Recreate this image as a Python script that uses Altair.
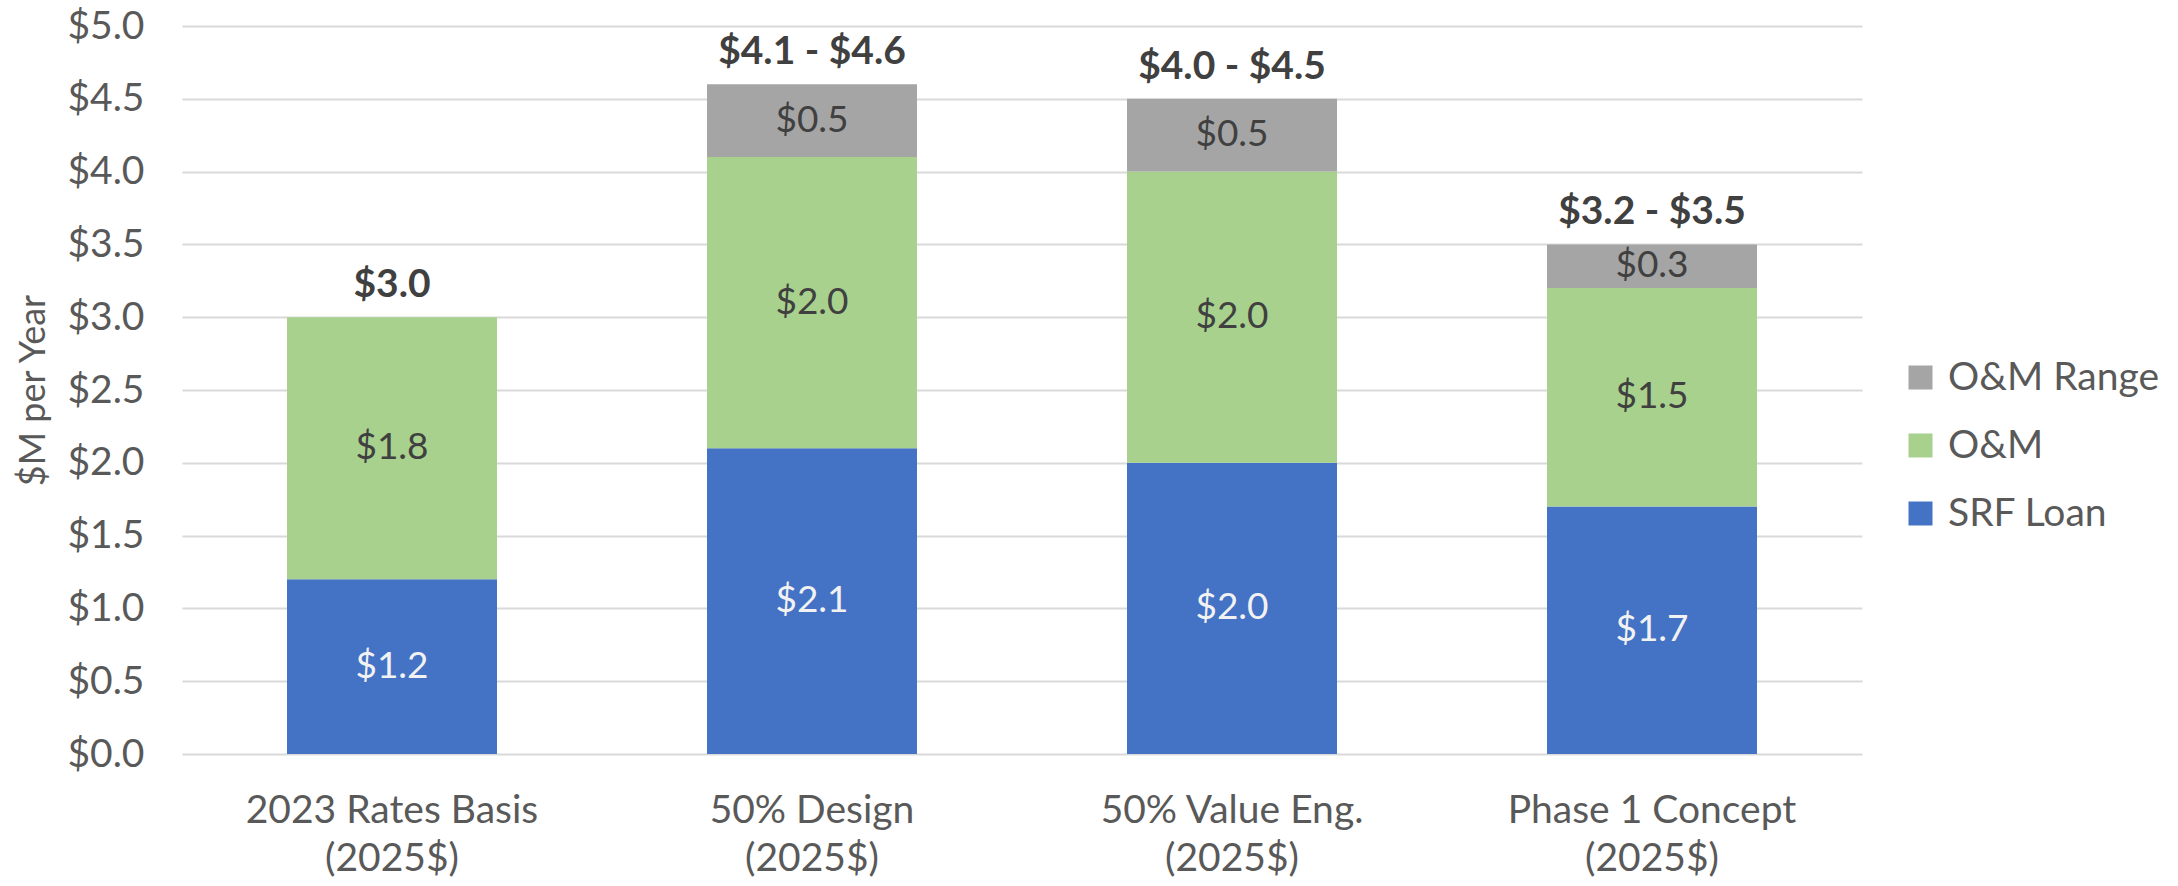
import altair as alt
import pandas as pd

categories = ["2023 Rates Basis", "50% Design", "50% Value Eng.", "Phase 1 Concept"]
subtitle = "(2025$)"
series = ["SRF Loan", "O&M", "O&M Range"]
srf_loan = [1.2, 2.1, 2.0, 1.7]
om = [1.8, 2.0, 2.0, 1.5]
om_range = [0.0, 0.5, 0.5, 0.3]
total_labels = ["$3.0", "$4.1 - $4.6", "$4.0 - $4.5", "$3.2 - $3.5"]
y_ticks = [0.0, 0.5, 1.0, 1.5, 2.0, 2.5, 3.0, 3.5, 4.0, 4.5, 5.0]

colors = {"SRF Loan": "#4472C4", "O&M": "#A9D18E", "O&M Range": "#A5A5A5"}
text_colors = {"SRF Loan": "#F2F2F2", "O&M": "#404040", "O&M Range": "#404040"}
legend_order = ["O&M Range", "O&M", "SRF Loan"]

FONT = "Lato"

rows = []
for i, cat in enumerate(categories):
    for j, (s, vals) in enumerate(zip(series, [srf_loan, om, om_range])):
        v = vals[i]
        rows.append({
            "category": cat,
            "series": s,
            "value": v,
            "order": j,
            "label": "$" + format(v, ".1f"),
            "tcolor": text_colors[s],
        })
df = pd.DataFrame(rows)

tot = pd.DataFrame({
    "category": categories,
    "top": [a + b + c for a, b, c in zip(srf_loan, om, om_range)],
    "label": total_labels,
})

x_enc = alt.X(
    "category:N",
    sort=categories,
    scale=alt.Scale(paddingInner=0.5, paddingOuter=0.25),
    axis=alt.Axis(
        title=None,
        labelExpr="[datum.label, '" + subtitle + "']",
        labelAngle=0,
        labelFont=FONT,
        labelFontSize=39,
        labelColor="#595959",
        labelPadding=37,
        labelLineHeight=48,
        labelLimit=0,
        ticks=False,
        domain=False,
        grid=False,
    ),
)

y_scale = alt.Scale(domain=[0, 5], nice=False)

bars = (
    alt.Chart(df)
    .transform_filter("datum.value > 0")
    .mark_bar()
    .encode(
        x=x_enc,
        y=alt.Y(
            "value:Q",
            stack="zero",
            scale=y_scale,
            axis=alt.Axis(
                title="$M per Year",
                titleFont=FONT,
                titleFontSize=36,
                titleFontWeight="normal",
                titleColor="#595959",
                titlePadding=14,
                values=y_ticks,
                labelExpr="'$' + format(datum.value, '.1f')",
                labelFont=FONT,
                labelFontSize=39,
                labelColor="#595959",
                labelPadding=38,
                ticks=False,
                domain=False,
                grid=True,
                gridColor="#D9D9D9",
                gridWidth=2,
            ),
        ),
        color=alt.Color(
            "series:N",
            scale=alt.Scale(domain=legend_order, range=[colors[s] for s in legend_order]),
            legend=alt.Legend(
                title=None,
                orient="none",
                legendX=1719,
                legendY=332,
                symbolType="square",
                symbolSize=576,
                symbolStrokeWidth=0,
                labelFont=FONT,
                labelFontSize=39,
                labelColor="#595959",
                labelOffset=8,
                labelLimit=0,
                rowPadding=28,
                padding=0,
            ),
        ),
        order=alt.Order("order:Q"),
    )
)

seg_text = (
    alt.Chart(df)
    .transform_filter("datum.value > 0")
    .transform_stack(
        stack="value",
        groupby=["category"],
        as_=["y0", "y1"],
        sort=[alt.SortField("order", order="ascending")],
    )
    .transform_calculate(mid="(datum.y0 + datum.y1) / 2")
    .mark_text(font=FONT, fontSize=37, baseline="middle", align="center")
    .encode(
        x=alt.X("category:N", sort=categories),
        y=alt.Y("mid:Q", scale=y_scale),
        text="label:N",
        color=alt.Color("tcolor:N", scale=None),
    )
)

tot_text = (
    alt.Chart(tot)
    .mark_text(font=FONT, fontSize=39, fontWeight="bold", baseline="alphabetic",
               align="center", dy=-20, color="#404040")
    .encode(
        x=alt.X("category:N", sort=categories),
        y=alt.Y("top:Q", scale=y_scale),
        text="label:N",
    )
)

chart = (
    alt.layer(bars, seg_text, tot_text)
    .properties(
        width=1680,
        height=728,
        padding={"left": 182, "top": 26, "right": 316, "bottom": 132},
        autosize=alt.AutoSizeParams(type="none"),
        background="white",
    )
    .configure_view(stroke=None)
)

chart.save("out.html", embed_options={"renderer": "svg", "actions": False})
